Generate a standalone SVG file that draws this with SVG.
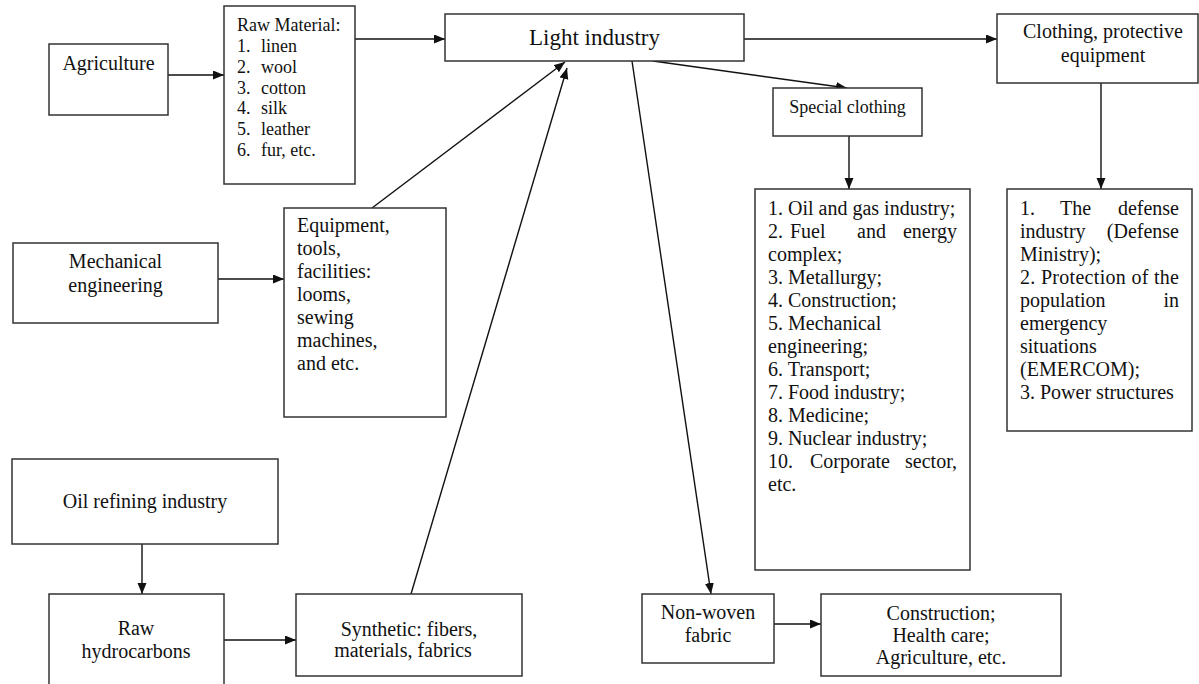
<svg xmlns="http://www.w3.org/2000/svg" width="1199" height="684" viewBox="0 0 1199 684">
  <style>
    .box { fill: #fff; stroke: #333; stroke-width: 1.5; }
    .t { font-family: "Liberation Serif", "Times New Roman", serif; font-size: 20px; fill: #111; }
    .c { text-anchor: middle; }
    .e { text-anchor: end; }
    .s18 { font-size: 18px; }
    .big { font-size: 23px; }
    .link { fill: none; stroke: #111; stroke-width: 1.4; }
  </style>
  <defs>
    <marker id="arrow" markerUnits="userSpaceOnUse" markerWidth="12" markerHeight="10" refX="11" refY="4.5" orient="auto">
      <path d="M0,0 L11,4.5 L0,9 z" fill="#111"/>
    </marker>
  </defs>
  <rect width="1199" height="684" fill="#fff"/>

  <g id="connectors">
    <path class="link" d="M168,75 H224" marker-end="url(#arrow)"/>
    <path class="link" d="M355,39 H445" marker-end="url(#arrow)"/>
    <path class="link" d="M744,39 H997" marker-end="url(#arrow)"/>
    <path class="link" d="M653,61 L847,88" marker-end="url(#arrow)"/>
    <path class="link" d="M849,136 V189" marker-end="url(#arrow)"/>
    <path class="link" d="M1101,83 V189" marker-end="url(#arrow)"/>
    <path class="link" d="M218,279 H284" marker-end="url(#arrow)"/>
    <path class="link" d="M372,208 L565,62" marker-end="url(#arrow)"/>
    <path class="link" d="M411,594 L567,68" marker-end="url(#arrow)"/>
    <path class="link" d="M632,61 L711,594" marker-end="url(#arrow)"/>
    <path class="link" d="M142,544 V594" marker-end="url(#arrow)"/>
    <path class="link" d="M224,640 H296" marker-end="url(#arrow)"/>
    <path class="link" d="M774,624 H821" marker-end="url(#arrow)"/>
  </g>

  <g id="agriculture">
    <rect class="box" x="49" y="44" width="119" height="71"/>
    <text class="t c" x="108.5" y="70">Agriculture</text>
  </g>

  <g id="raw-material">
    <rect class="box" x="224" y="6" width="131" height="178"/>
    <text class="t s18" x="237" y="31">Raw Material:</text>
    <text class="t s18" x="237" y="52">1.</text><text class="t s18" x="261" y="52">linen</text>
    <text class="t s18" x="237" y="73">2.</text><text class="t s18" x="261" y="73">wool</text>
    <text class="t s18" x="237" y="94">3.</text><text class="t s18" x="261" y="94">cotton</text>
    <text class="t s18" x="237" y="114">4.</text><text class="t s18" x="261" y="114">silk</text>
    <text class="t s18" x="237" y="135">5.</text><text class="t s18" x="261" y="135">leather</text>
    <text class="t s18" x="237" y="156">6.</text><text class="t s18" x="261" y="156">fur, etc.</text>
  </g>

  <g id="light-industry">
    <rect class="box" x="445" y="14" width="299" height="47"/>
    <text class="t big c" x="594.5" y="45">Light industry</text>
  </g>

  <g id="clothing">
    <rect class="box" x="997" y="14" width="201" height="69"/>
    <text class="t c" x="1103" y="38">Clothing, protective</text>
    <text class="t c" x="1103" y="62">equipment</text>
  </g>

  <g id="special-clothing">
    <rect class="box" x="773" y="88" width="149" height="48"/>
    <text class="t s18 c" x="847.5" y="113">Special clothing</text>
  </g>

  <g id="special-sectors">
    <rect class="box" x="755" y="189" width="215" height="381"/>
    <text class="t" x="768" y="215">1. Oil and gas industry;</text>
    <text class="t" x="768" y="238">2.</text><text class="t" x="790" y="238">Fuel</text><text class="t" x="857" y="238">and</text><text class="t e" x="957" y="238">energy</text>
    <text class="t" x="768" y="261">complex;</text>
    <text class="t" x="768" y="284">3. Metallurgy;</text>
    <text class="t" x="768" y="307">4. Construction;</text>
    <text class="t" x="768" y="330">5. Mechanical</text>
    <text class="t" x="768" y="353">engineering;</text>
    <text class="t" x="768" y="376">6. Transport;</text>
    <text class="t" x="768" y="399">7. Food industry;</text>
    <text class="t" x="768" y="422">8. Medicine;</text>
    <text class="t" x="768" y="445">9. Nuclear industry;</text>
    <text class="t" x="768" y="468">10.</text><text class="t" x="810" y="468">Corporate</text><text class="t e" x="957" y="468">sector,</text>
    <text class="t" x="768" y="491">etc.</text>
  </g>

  <g id="defense">
    <rect class="box" x="1007" y="189" width="185" height="242"/>
    <text class="t" x="1020" y="215">1.</text><text class="t" x="1060" y="215">The</text><text class="t e" x="1179" y="215">defense</text>
    <text class="t" x="1020" y="238">industry</text><text class="t e" x="1179" y="238">(Defense</text>
    <text class="t" x="1020" y="261">Ministry);</text>
    <text class="t" x="1020" y="284" textLength="159" lengthAdjust="spacing">2. Protection of the</text>
    <text class="t" x="1020" y="307">population</text><text class="t e" x="1179" y="307">in</text>
    <text class="t" x="1020" y="330">emergency</text>
    <text class="t" x="1020" y="353">situations</text>
    <text class="t" x="1020" y="376">(EMERCOM);</text>
    <text class="t" x="1020" y="399">3. Power structures</text>
  </g>

  <g id="mechanical-engineering">
    <rect class="box" x="13" y="243" width="205" height="80"/>
    <text class="t c" x="115.5" y="268">Mechanical</text>
    <text class="t c" x="115.5" y="292">engineering</text>
  </g>

  <g id="equipment">
    <rect class="box" x="284" y="208" width="162" height="209"/>
    <text class="t" x="297" y="232">Equipment,</text>
    <text class="t" x="297" y="255">tools,</text>
    <text class="t" x="297" y="278">facilities:</text>
    <text class="t" x="297" y="301">looms,</text>
    <text class="t" x="297" y="324">sewing</text>
    <text class="t" x="297" y="347">machines,</text>
    <text class="t" x="297" y="370">and etc.</text>
  </g>

  <g id="oil-refining">
    <rect class="box" x="12" y="459" width="266" height="85"/>
    <text class="t c" x="145" y="508">Oil refining industry</text>
  </g>

  <g id="raw-hydrocarbons">
    <rect class="box" x="49" y="594" width="175" height="100"/>
    <text class="t c" x="136" y="635">Raw</text>
    <text class="t c" x="136" y="658">hydrocarbons</text>
  </g>

  <g id="synthetic">
    <rect class="box" x="296" y="594" width="226" height="82"/>
    <text class="t c" x="409" y="636">Synthetic: fibers,</text>
    <text class="t c" x="403" y="657">materials, fabrics</text>
  </g>

  <g id="non-woven">
    <rect class="box" x="642" y="594" width="132" height="69"/>
    <text class="t c" x="708" y="619">Non-woven</text>
    <text class="t c" x="708" y="642">fabric</text>
  </g>

  <g id="applications">
    <rect class="box" x="821" y="594" width="240" height="82"/>
    <text class="t c" x="941" y="620">Construction;</text>
    <text class="t c" x="941" y="642">Health care;</text>
    <text class="t c" x="941" y="664">Agriculture, etc.</text>
  </g>
</svg>
